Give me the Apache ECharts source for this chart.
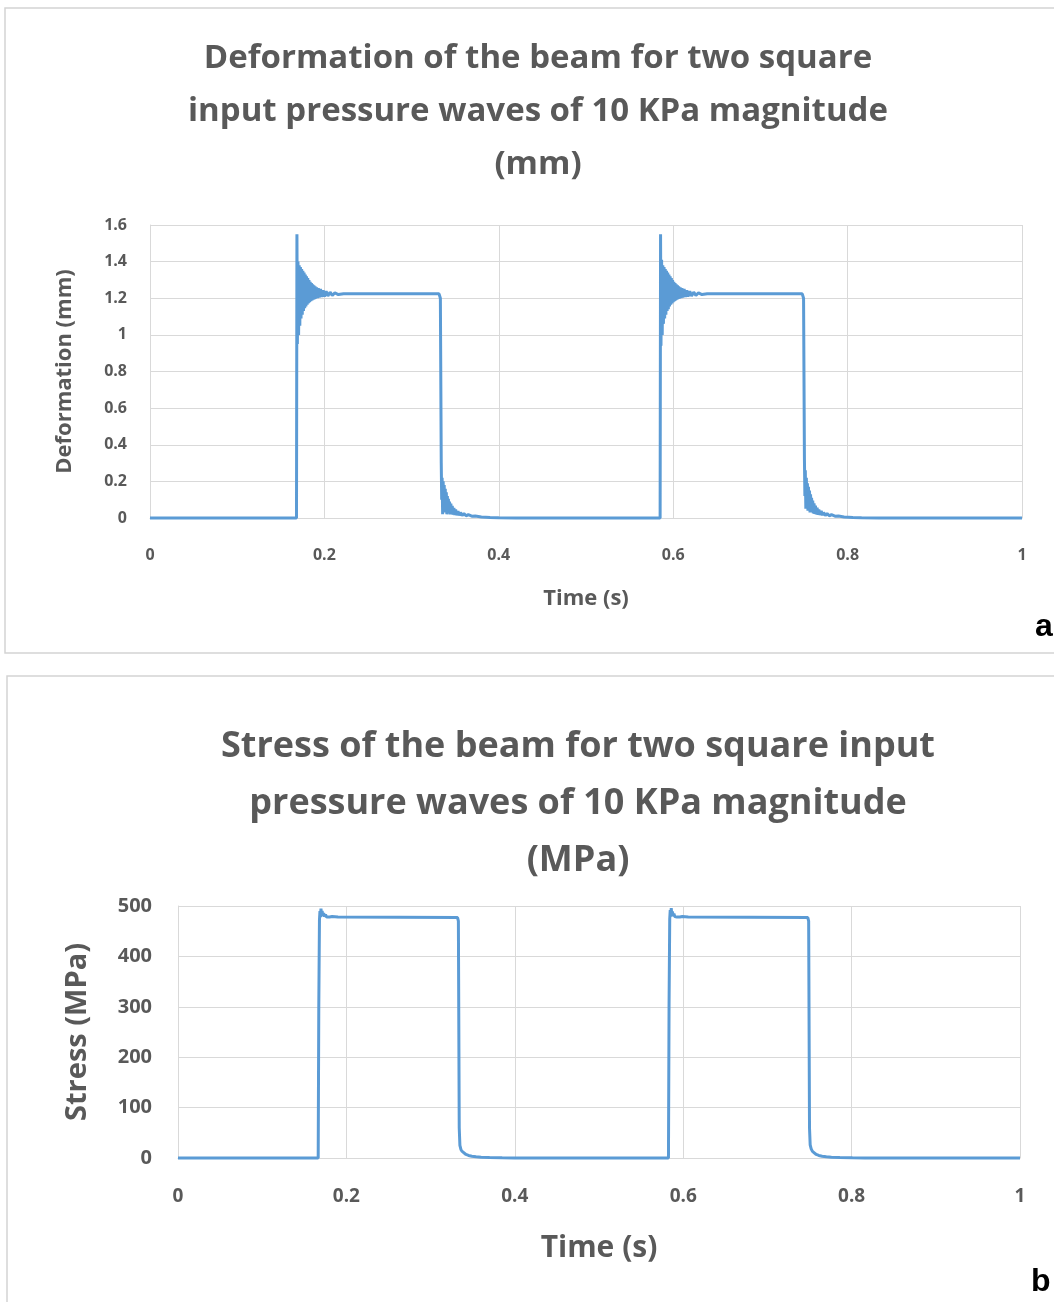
<!DOCTYPE html>
<html>
<head>
<meta charset="utf-8">
<script src="https://cdn.jsdelivr.net/npm/echarts@6/dist/echarts.min.js"></script>
<style>
  html, body { margin: 0; padding: 0; background: #ffffff; }
  #chart { width: 1054px; height: 1302px; }
</style>
</head>
<body>
<div id="chart"></div>
<script>
// Axis ticks
const timeTicks = [0, 0.2, 0.4, 0.6, 0.8, 1];
const deformationTicks = [0, 0.2, 0.4, 0.6, 0.8, 1, 1.2, 1.4, 1.6];
const stressTicks = [0, 100, 200, 300, 400, 500];

// Deformation (mm) vs time (s): [time, deformation]
const deformationRest1 = [[0, 0], [0.1680, 0]];
const deformationPulse1 = [
  [0.1685, 1.55], [0.1690, 0.95], [0.1697, 1.40], [0.1704, 1.00], [0.1711, 1.38], [0.1718, 1.05],
  [0.1725, 1.37], [0.1732, 1.09], [0.1739, 1.36], [0.1746, 1.11], [0.1753, 1.35], [0.1760, 1.13],
  [0.1767, 1.34], [0.1774, 1.145], [0.1781, 1.33], [0.1788, 1.155], [0.1795, 1.32], [0.1802, 1.165],
  [0.1809, 1.31], [0.1816, 1.172], [0.1823, 1.30], [0.1830, 1.178], [0.1837, 1.29], [0.1844, 1.184],
  [0.1851, 1.283], [0.1858, 1.188], [0.1865, 1.276], [0.1872, 1.192], [0.1879, 1.27], [0.1886, 1.195],
  [0.1893, 1.265], [0.1900, 1.198], [0.1910, 1.26], [0.1920, 1.201], [0.1930, 1.255], [0.1940, 1.204],
  [0.1955, 1.25], [0.1970, 1.207], [0.1985, 1.244], [0.2000, 1.21], [0.2020, 1.238], [0.2040, 1.213],
  [0.2065, 1.233], [0.2090, 1.216], [0.2120, 1.229], [0.2160, 1.22], [0.2220, 1.225], [0.3315, 1.224],
  [0.3330, 1.20], [0.3340, 0.30], [0.3345, 0.10], [0.3350, 0.22], [0.3356, 0.02], [0.3362, 0.20],
  [0.3368, 0.04], [0.3374, 0.18], [0.3380, 0.03], [0.3386, 0.16], [0.3392, 0.03], [0.3398, 0.14],
  [0.3404, 0.02], [0.3410, 0.12], [0.3416, 0.03], [0.3422, 0.105], [0.3428, 0.025], [0.3435, 0.09],
  [0.3442, 0.02], [0.3450, 0.078], [0.3458, 0.02], [0.3466, 0.066], [0.3475, 0.018], [0.3485, 0.055],
  [0.3495, 0.016], [0.3505, 0.046], [0.3518, 0.015], [0.3532, 0.038], [0.3546, 0.014], [0.3560, 0.03],
  [0.3580, 0.013], [0.3600, 0.024], [0.3625, 0.012], [0.3650, 0.018], [0.3690, 0.010], [0.3730, 0.011],
  [0.3800, 0.006], [0.3900, 0.003], [0.4000, 0.001], [0.4200, 0]
];
const deformationRest2 = [[0.5850, 0]];
const deformationPulse2 = [
  [0.5855, 1.55], [0.5860, 0.94], [0.5867, 1.41], [0.5874, 1.00], [0.5881, 1.38], [0.5888, 1.06],
  [0.5895, 1.37], [0.5902, 1.09], [0.5909, 1.36], [0.5916, 1.11], [0.5923, 1.35], [0.5930, 1.13],
  [0.5937, 1.34], [0.5944, 1.14], [0.5951, 1.33], [0.5958, 1.155], [0.5965, 1.32], [0.5972, 1.165],
  [0.5979, 1.31], [0.5986, 1.172], [0.5993, 1.30], [0.6000, 1.178], [0.6007, 1.29], [0.6014, 1.184],
  [0.6021, 1.283], [0.6028, 1.188], [0.6035, 1.276], [0.6042, 1.192], [0.6049, 1.27], [0.6056, 1.195],
  [0.6063, 1.265], [0.6070, 1.198], [0.6080, 1.26], [0.6090, 1.201], [0.6100, 1.255], [0.6110, 1.204],
  [0.6125, 1.25], [0.6140, 1.207], [0.6155, 1.244], [0.6170, 1.21], [0.6190, 1.238], [0.6210, 1.213],
  [0.6235, 1.233], [0.6260, 1.216], [0.6290, 1.229], [0.6330, 1.22], [0.6390, 1.225], [0.7480, 1.224],
  [0.7495, 1.20], [0.7505, 0.32], [0.7510, 0.12], [0.7515, 0.26], [0.7521, 0.05], [0.7527, 0.22],
  [0.7533, 0.06], [0.7539, 0.19], [0.7545, 0.04], [0.7551, 0.17], [0.7557, 0.04], [0.7563, 0.15],
  [0.7569, 0.03], [0.7575, 0.13], [0.7581, 0.035], [0.7587, 0.11], [0.7593, 0.03], [0.7600, 0.095],
  [0.7607, 0.025], [0.7615, 0.08], [0.7623, 0.022], [0.7631, 0.068], [0.7640, 0.02], [0.7650, 0.056],
  [0.7660, 0.018], [0.7670, 0.046], [0.7683, 0.016], [0.7697, 0.038], [0.7711, 0.015], [0.7725, 0.03],
  [0.7745, 0.013], [0.7765, 0.024], [0.7790, 0.012], [0.7815, 0.018], [0.7855, 0.010], [0.7895, 0.011],
  [0.7960, 0.006], [0.8060, 0.003], [0.8160, 0.001], [0.8360, 0]
];
const deformationRest3 = [[1, 0]];

// Stress (MPa) vs time (s): [time, stress]
const stressRest1 = [[0, 0], [0.1665, 0]];
const stressPulse1 = [
  [0.1672, 300], [0.1680, 472], [0.1686, 490], [0.1692, 478], [0.1698, 495], [0.1705, 481],
  [0.1712, 490], [0.1720, 480], [0.1730, 486], [0.1740, 479], [0.1752, 483], [0.1765, 478],
  [0.1780, 481], [0.1800, 478], [0.1830, 479], [0.1900, 478], [0.3320, 477], [0.3330, 470],
  [0.3340, 60], [0.3348, 25], [0.3360, 17], [0.3375, 13], [0.3395, 10], [0.3420, 7],
  [0.3450, 5], [0.3490, 3.5], [0.3540, 2.5], [0.3600, 1.6], [0.3700, 1], [0.3850, 0.5],
  [0.4000, 0.2], [0.4200, 0]
];
const stressRest2 = [[0.5825, 0]];
const stressPulse2 = [
  [0.5832, 300], [0.5840, 474], [0.5846, 492], [0.5852, 479], [0.5858, 496], [0.5865, 482],
  [0.5872, 489], [0.5880, 480], [0.5890, 485], [0.5900, 479], [0.5912, 482], [0.5925, 478],
  [0.5940, 480], [0.5960, 478], [0.5990, 479], [0.6060, 478], [0.7480, 477], [0.7490, 470],
  [0.7500, 60], [0.7508, 26], [0.7520, 18], [0.7535, 13], [0.7555, 10], [0.7580, 7],
  [0.7610, 5], [0.7650, 3.5], [0.7700, 2.5], [0.7760, 1.6], [0.7860, 1], [0.8010, 0.5],
  [0.8160, 0.2], [0.8360, 0]
];
const stressRest3 = [[1, 0]];

const deformationSeries = [].concat(deformationRest1, deformationPulse1, deformationRest2, deformationPulse2, deformationRest3);
const stressSeries = [].concat(stressRest1, stressPulse1, stressRest2, stressPulse2, stressRest3);

const FONT = '"Open Sans", "Noto Sans", sans-serif';
const TEXT_GREY = '#595959';
const GRID_GREY = '#d9d9d9';
const LINE_BLUE = '#5b9bd5';

function valueAxis(ticks, opts) {
  const step = ticks[1] - ticks[0];
  return Object.assign({
    type: 'value',
    min: ticks[0],
    max: ticks[ticks.length - 1],
    interval: step,
    axisLine: { show: true, lineStyle: { color: GRID_GREY, width: 1 } },
    axisTick: { show: false },
    splitLine: { show: true, lineStyle: { color: GRID_GREY, width: 1 } },
    nameLocation: 'middle',
    nameTextStyle: { fontFamily: FONT, color: TEXT_GREY, fontWeight: 'bold' }
  }, opts);
}

const chart = echarts.init(document.getElementById('chart'), null, { renderer: 'canvas' });

chart.setOption({
  backgroundColor: '#ffffff',
  animation: false,
  title: [
    {
      text: 'Deformation of the beam for two square\ninput pressure waves of 10 KPa magnitude\n(mm)',
      left: 533, top: 27, textAlign: 'center',
      textStyle: { fontFamily: FONT, fontSize: 33, fontWeight: 'bold', color: TEXT_GREY, lineHeight: 53 }
    },
    {
      text: 'Stress of the beam for two square input\npressure waves of 10 KPa magnitude\n(MPa)',
      left: 573, top: 713, textAlign: 'center',
      textStyle: { fontFamily: FONT, fontSize: 36, fontWeight: 'bold', color: TEXT_GREY, lineHeight: 57 }
    }
  ],
  graphic: [
    { type: 'rect', z: -10, shape: { x: 5, y: 8, width: 1070, height: 645 },
      style: { fill: '#ffffff', stroke: '#d4d4d4', lineWidth: 1.5 } },
    { type: 'rect', z: -10, shape: { x: 7, y: 676, width: 1070, height: 640 },
      style: { fill: '#ffffff', stroke: '#d4d4d4', lineWidth: 1.5 } },
    { type: 'text', left: 1035, top: 611,
      style: { text: 'a', font: 'bold 32px "Liberation Sans", sans-serif', fill: '#000000' } },
    { type: 'text', left: 1031, top: 1266,
      style: { text: 'b', font: 'bold 32px "Liberation Sans", sans-serif', fill: '#000000' } }
  ],
  grid: [
    { left: 150, top: 225, width: 872, height: 293, containLabel: false },
    { left: 178, top: 906, width: 842, height: 252, containLabel: false }
  ],
  xAxis: [
    valueAxis(timeTicks, {
      gridIndex: 0, name: 'Time (s)', nameGap: 70,
      nameTextStyle: { fontFamily: FONT, color: TEXT_GREY, fontWeight: 'bold', fontSize: 22 },
      axisLabel: { fontFamily: FONT, color: TEXT_GREY, fontWeight: 'bold', fontSize: 16, margin: 29 }
    }),
    valueAxis(timeTicks, {
      gridIndex: 1, name: 'Time (s)', nameGap: 75,
      nameTextStyle: { fontFamily: FONT, color: TEXT_GREY, fontWeight: 'bold', fontSize: 30 },
      axisLabel: { fontFamily: FONT, color: TEXT_GREY, fontWeight: 'bold', fontSize: 19, margin: 29 }
    })
  ],
  yAxis: [
    valueAxis(deformationTicks, {
      gridIndex: 0, name: 'Deformation (mm)', nameGap: 74,
      nameTextStyle: { fontFamily: FONT, color: TEXT_GREY, fontWeight: 'bold', fontSize: 22 },
      axisLabel: { fontFamily: FONT, color: TEXT_GREY, fontWeight: 'bold', fontSize: 16, margin: 23,
        formatter: v => String(Math.round(v * 10) / 10) }
    }),
    valueAxis(stressTicks, {
      gridIndex: 1, name: 'Stress (MPa)', nameGap: 86,
      nameTextStyle: { fontFamily: FONT, color: TEXT_GREY, fontWeight: 'bold', fontSize: 29 },
      axisLabel: { fontFamily: FONT, color: TEXT_GREY, fontWeight: 'bold', fontSize: 20, margin: 26 }
    })
  ],
  series: [
    {
      type: 'line', xAxisIndex: 0, yAxisIndex: 0, data: deformationSeries,
      showSymbol: false, symbol: 'none', clip: false,
      lineStyle: { color: LINE_BLUE, width: 3 }
    },
    {
      type: 'line', xAxisIndex: 1, yAxisIndex: 1, data: stressSeries,
      showSymbol: false, symbol: 'none', clip: false,
      lineStyle: { color: LINE_BLUE, width: 3 }
    }
  ]
});
</script>
</body>
</html>
